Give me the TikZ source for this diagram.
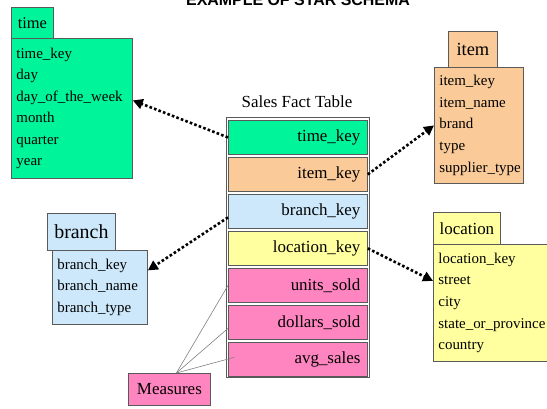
\documentclass[tikz,border=0pt]{standalone}
\usepackage{fontspec}
\setmainfont{Liberation Serif}
\newfontfamily\headsans{Liberation Sans}
\usetikzlibrary{arrows.meta}
\definecolor{timegreen}{RGB}{0,245,155}
\definecolor{itemorange}{RGB}{250,202,152}
\definecolor{branchblue}{RGB}{204,232,250}
\definecolor{locyellow}{RGB}{255,255,160}
\definecolor{measpink}{RGB}{255,133,192}
\definecolor{edgegray}{RGB}{90,90,90}
\tikzset{
  dimhead/.style={draw=edgegray, line width=0.8bp, anchor=north west, inner sep=0pt},
  dimbody/.style={draw=edgegray, line width=0.8bp, anchor=north west, inner xsep=5bp,
    inner ysep=0pt, align=left, font=\fontsize{15}{21.6}\selectfont},
  factcell/.style={draw=edgegray, line width=0.8bp, anchor=north west, inner xsep=7bp,
    inner ysep=0pt, minimum height=34bp, align=right, font=\fontsize{17}{20}\selectfont},
  keylink/.style={line width=2.6bp, dash pattern=on 2.6bp off 2.2bp,
    -{Triangle[length=10bp,width=10bp]}},
  measlink/.style={draw=gray, line width=0.6bp}
}
\begin{document}
\begin{tikzpicture}[x=1bp, y=-1bp]
\useasboundingbox (0,0) rectangle (547,408);
%%%% Title (cut off at the top)
\node[font=\headsans\bfseries\fontsize{16}{18}\selectfont, anchor=base] (title) at (298,5) {EXAMPLE OF STAR SCHEMA};
%%%% time
\node[dimhead, fill=timegreen, minimum width=42bp, minimum height=31bp,
  font=\fontsize{16.5}{18}\selectfont] (timehead) at (11,7) {time};
\node[dimbody, fill=timegreen, text width=111bp, minimum height=140bp] (timebody) at (11,38)
  {time\_key\\day\\day\_of\_the\_week\\month\\quarter\\year};
%%%% item
\node[dimhead, fill=itemorange, minimum width=49bp, minimum height=36bp,
  font=\fontsize{18.5}{20}\selectfont] (itemhead) at (448,31) {item};
\node[dimbody, fill=itemorange, text width=79bp, minimum height=116bp] (itembody) at (434,67)
  {item\_key\\item\_name\\brand\\type\\supplier\_type};
%%%% branch
\node[dimhead, fill=branchblue, minimum width=68bp, minimum height=37bp,
  font=\fontsize{20}{22}\selectfont] (branchhead) at (47,213) {branch};
\node[dimbody, fill=branchblue, text width=85bp, minimum height=74bp] (branchbody) at (52,250)
  {branch\_key\\branch\_name\\branch\_type};
%%%% location
\node[dimhead, fill=locyellow, minimum width=67bp, minimum height=32bp,
  font=\fontsize{17}{19}\selectfont] (lochead) at (433,212) {location};
\node[dimbody, fill=locyellow, text width=120bp, minimum height=117bp] (locbody) at (433,244)
  {location\_key\\street\\city\\state\_or\_province\\country};
%%%% Sales fact table
\node[font=\fontsize{17}{20}\selectfont] (facttitle) at (297,102) {Sales Fact Table};
\draw[edgegray, line width=0.8bp] (226,117) rectangle (369,377);
\foreach \n/\txt/\col [count=\i from 0] in {timek/time\_key/timegreen, itemk/item\_key/itemorange,
    branchk/branch\_key/branchblue, lock/location\_key/locyellow, unitsk/units\_sold/measpink,
    dollarsk/dollars\_sold/measpink, avgk/avg\_sales/measpink}
  \node[factcell, fill=\col, text width=125bp] (\n) at (228,120+37*\i) {\txt};
%%%% Measures
\node[dimhead, fill=measpink, minimum width=82bp, minimum height=32bp,
  font=\fontsize{17}{19}\selectfont] (measures) at (128,373) {Measures};
\coordinate (measroot) at ([xshift=7bp]measures.north);
\draw[measlink] (measroot) -- (unitsk.west);
\draw[measlink] (measroot) -- ([yshift=-6bp]dollarsk.west);
\draw[measlink] (measroot) -- ([xshift=6bp,yshift=2bp]avgk.west);
%%%% Key links
\draw[keylink] (timek.west) -- ([yshift=8bp]timebody.east);
\draw[keylink] (itemk.east) -- (itembody.west);
\draw[keylink] ([yshift=-6bp]branchk.west) -- ([yshift=17bp]branchbody.east);
\draw[keylink] (lock.east) -- ([yshift=22bp]locbody.west);
\end{tikzpicture}
\end{document}
